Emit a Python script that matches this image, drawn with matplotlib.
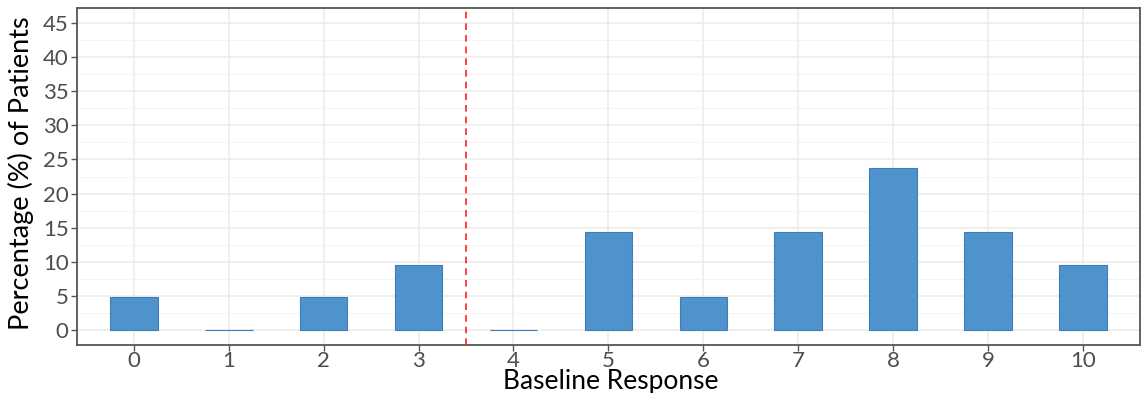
import numpy as np
import matplotlib.pyplot as plt
from matplotlib.ticker import MultipleLocator

# Anteil der Patienten je Baseline-Antwort
responses = [0, 1, 2, 3, 4, 5, 6, 7, 8, 9, 10]
percent = [4.76, 0, 4.76, 9.52, 0, 14.29, 4.76, 14.29, 23.81, 14.29, 9.52]
cutoff = 3.5

plt.rcParams['font.family'] = ['Lato', 'DejaVu Sans']

fig = plt.figure(figsize=(11.42, 3.93), dpi=100)
ax = fig.add_axes([0.0674, 0.1221, 0.9306, 0.8575])

ax.bar(responses, percent, width=0.5, color='#4F93CD', edgecolor='#3F7FB8',
       linewidth=0.8, zorder=3)
ax.axvline(cutoff, color='#FF2020', linestyle=(0, (4, 3)), linewidth=1.2, zorder=4)

ax.set_xlim(-0.6, 10.6)
ax.set_ylim(-2.25, 47.25)
ax.set_xticks(responses)
ax.yaxis.set_major_locator(MultipleLocator(5))
ax.yaxis.set_minor_locator(MultipleLocator(2.5))
ax.set_yticks(np.arange(0, 46, 5))

ax.grid(which='major', color='#EBEBEB', linewidth=1.1, zorder=0)
ax.grid(which='minor', axis='y', color='#F3F3F3', linewidth=0.7, zorder=0)
ax.tick_params(which='minor', length=0)
ax.tick_params(which='major', length=4, color='#555555', width=1,
               labelsize=16, labelcolor='#4D4D4D', pad=2)
ax.tick_params(axis='x', pad=0.5)
for s in ax.spines.values():
    s.set_color('#555555')
    s.set_linewidth(1.3)

# Achsentitel frei platziert, damit nichts abgeschnitten wird
fig.text(0.535, 0.009, 'Baseline Response', fontsize=19, ha='center', va='baseline')
fig.text(0.007, 0.56, 'Percentage (%) of Patients', fontsize=19.5, rotation=90,
         ha='left', va='center')

fig.savefig('out.png', dpi=100)
